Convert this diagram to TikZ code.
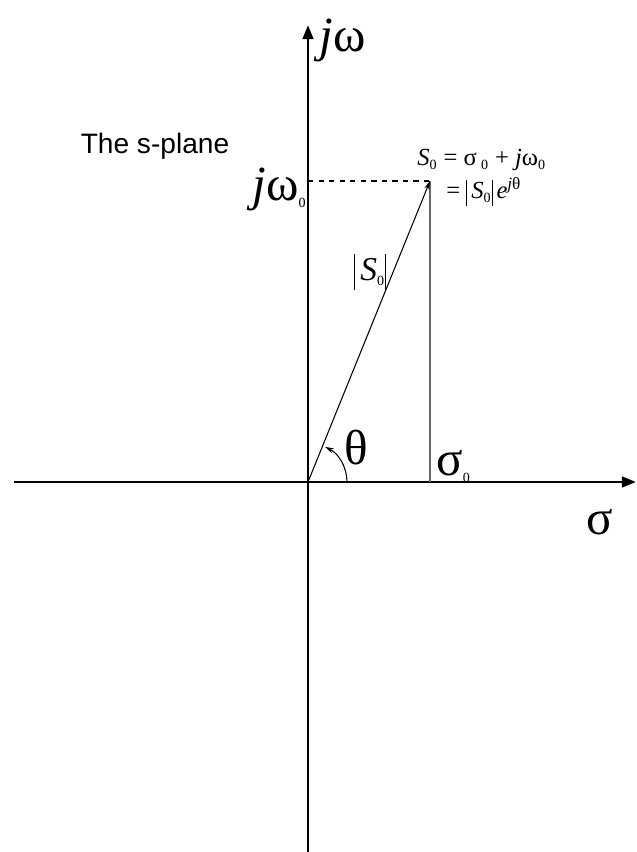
\documentclass[tikz,border=0pt]{standalone}
\usepackage{fontspec}
\setmainfont{Liberation Serif}
\newfontfamily\planefont{Liberation Sans}
\usetikzlibrary{positioning, arrows.meta, calc}
\tikzset{
  axis/.style={line width=1.5pt, -{Triangle[length=8pt, width=6pt]}},
  vec/.style={line width=0.6pt, -{Stealth[length=5pt, width=3pt]}},
  proj/.style={draw=black!60, line width=0.7pt},
  biglbl/.style={font=\fontsize{28}{32}\selectfont, inner sep=0pt},
  eqlbl/.style={font=\fontsize{14}{16}\selectfont, inner sep=0pt, anchor=base west},
}
\newcommand{\zsub}{\textsubscript{\fontsize{8}{9}\selectfont 0}}
\newcommand{\tallbar}[1]{\rule[-0.25\baselineskip]{0.5pt}{#1}}

\begin{document}
\begin{tikzpicture}[x=0.02cm, y=0.02cm]
\useasboundingbox (-308,-370) rectangle (328,482);

\coordinate (origin) at (0,0);
\coordinate (s0) at (122,301);
\coordinate (w0) at (0,301);
\coordinate (sig0) at (122,0);

% axes
\draw[axis] (0,-370) -- (0,457);
\draw[axis] (-294,0) -- (328,0);

% projections and vector
\draw[dashed, line width=0.6pt] (w0) -- (s0);
\draw[proj] (sig0) -- (s0);
\draw[vec] (origin) -- (s0);
\draw[line width=0.6pt, -{Stealth[length=5pt, width=3pt]}] (39,0) arc (0:64:39);

% labels
\node[biglbl, anchor=base west] (jw) at (11,430) {\textit{j}ω};
\node[biglbl, anchor=base east] (jw0) at (-1,281) {\textit{j}ω\zsub};
\node[font=\planefont\fontsize{16}{18}\selectfont] (title) at (-153,336) {The s-plane};
\node[eqlbl] (eq1) at (109,316) {\textit{S}\zsub\ = σ\,\zsub\ + \textit{j}ω\zsub};
\node[eqlbl] (eq2) at (138,283) {= \tallbar{15pt}\,\textit{S}\zsub\tallbar{15pt}\,\textit{e}\textsuperscript{\textit{j}θ}};
\node[font=\fontsize{19}{22}\selectfont, inner sep=0pt] (mag) at (62,210) {\tallbar{21pt}\,\textit{S}\zsub\tallbar{21pt}};
\node[biglbl] (theta) at (48,34) {θ};
\node[biglbl, anchor=base west] (sig0lbl) at (128,6) {σ\zsub};
\node[biglbl] (sig) at (292,-40) {σ};
\end{tikzpicture}
\end{document}
